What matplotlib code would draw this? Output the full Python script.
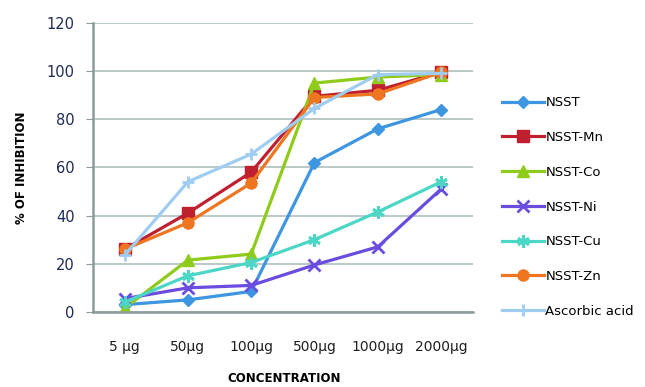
import matplotlib
matplotlib.use("Agg")
import matplotlib.pyplot as plt

categories = ["5 µg", "50µg", "100µg", "500µg", "1000µg", "2000µg"]
nsst = [3, 5, 8.5, 62, 76, 84]
nsst_mn = [26, 41, 58, 89.5, 92, 99.5]
nsst_co = [1.5, 21.5, 24, 95, 97.5, 98.5]
nsst_ni = [5.5, 10, 11, 19.5, 27, 51]
nsst_cu = [4, 15, 20.5, 30, 41.5, 54]
nsst_zn = [26, 37, 53.5, 89, 90.5, 99.5]
ascorbic = [23.5, 54, 65.5, 84.5, 98.5, 99]

series = [
    ("NSST", nsst, "#3E95E0", "D", 6),
    ("NSST-Mn", nsst_mn, "#C01F30", "s", 8),
    ("NSST-Co", nsst_co, "#8FCB1A", "^", 8),
    ("NSST-Ni", nsst_ni, "#6A4CDE", "x", 8),
    ("NSST-Cu", nsst_cu, "#4CD6C6", (6, 2, 0), 9),
    ("NSST-Zn", nsst_zn, "#EF7621", "o", 8),
    ("Ascorbic acid", ascorbic, "#9FCCF1", "+", 9),
]

fig = plt.figure(figsize=(6.45, 3.87), dpi=100)
ax = fig.add_axes([0.144, 0.194, 0.589, 0.747])
x = list(range(len(categories)))
handles = []
for name, vals, col, mk, ms in series:
    mew = 2 if mk in ("x", "+") or isinstance(mk, tuple) else 1
    ln, = ax.plot(x, vals, color=col, lw=2.3, marker=mk, ms=ms, mfc=col, mec=col,
                  mew=mew, label=name)
    handles.append(ln)

ax.set_xlim(-0.5, len(categories) - 0.5)
ax.set_ylim(0, 120)
ax.set_yticks(range(0, 121, 20))
ax.set_xticks(x)
ax.set_xticklabels(categories)
ax.yaxis.grid(True, color="#AFBFBF", lw=1.2)
ax.set_axisbelow(True)
for s in ["top", "right"]:
    ax.spines[s].set_visible(False)
ax.spines["left"].set_color("#8C9C9C")
ax.spines["left"].set_linewidth(1.8)
ax.spines["bottom"].set_color("#8C9C9C")
ax.spines["bottom"].set_linewidth(1.8)
ax.tick_params(axis="y", length=5, color="#8C9C9C", labelsize=10.5, labelcolor="#1F2A55", pad=8)
ax.tick_params(axis="x", length=0, labelsize=10, labelcolor="#1F1F1F", pad=20)

fig.text(0.034, 0.567, "% OF INHIBITION", rotation=90, fontsize=8.5, fontweight="bold",
         ha="center", va="center")
fig.text(0.44, 0.022, "CONCENTRATION", fontsize=8.5, fontweight="bold",
         ha="center", va="center")

fig.legend(handles=handles, loc="upper left", bbox_to_anchor=(0.77, 0.765),
           frameon=False, fontsize=9.5, handlelength=3.2, labelspacing=1.65,
           handletextpad=0.1, borderaxespad=0)

fig.savefig("out.png", dpi=100)
